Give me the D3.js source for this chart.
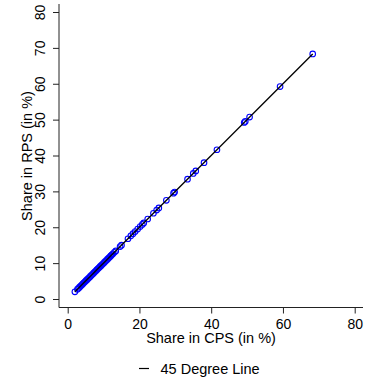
<!DOCTYPE html>
<html>
<head>
<meta charset="utf-8">
<script src="https://cdn.jsdelivr.net/npm/d3@7"></script>
<style>
  body { margin: 0; background: #fff; }
  text { font-family: "Liberation Sans", Arial, Helvetica, sans-serif; }
</style>
</head>
<body>
<svg id="chart" width="370" height="383"></svg>
<script>
// Share in CPS (x) and share in RPS (y), in percent
const cps = [2.0, 2.7, 3.0, 3.3, 3.6, 3.9, 4.2, 4.5, 4.8, 5.1, 5.4, 5.7, 6.0, 6.3, 6.6, 6.9, 7.2,
             7.5, 7.8, 8.1, 8.4, 8.7, 9.0, 9.3, 9.6, 9.9, 10.2, 10.5, 10.8, 11.1, 11.4, 11.7, 12.0,
             12.3, 12.6, 13.0, 13.4,
             14.6, 15.0, 16.8, 17.6, 18.2, 18.8, 19.5, 20.2, 20.8, 21.2, 22.3, 23.9, 24.8, 25.4,
             27.5, 29.5, 29.8, 33.4, 35.0, 35.7, 38.0, 41.6, 49.2, 49.5, 50.7, 59.2, 68.3];
const rps = [2.0, 2.7, 3.0, 3.3, 3.6, 3.9, 4.2, 4.5, 4.8, 5.1, 5.4, 5.7, 6.0, 6.3, 6.6, 6.9, 7.2,
             7.5, 7.8, 8.1, 8.4, 8.7, 9.0, 9.3, 9.6, 9.9, 10.2, 10.5, 10.8, 11.1, 11.4, 11.7, 12.0,
             12.3, 12.6, 13.0, 13.4,
             14.6, 15.0, 16.8, 17.6, 18.2, 18.8, 19.5, 20.2, 20.8, 21.2, 22.3, 23.9, 24.8, 25.4,
             27.5, 29.5, 29.8, 33.4, 35.0, 35.7, 38.0, 41.6, 49.2, 49.5, 50.7, 59.2, 68.3];
const xTicks = [0, 20, 40, 60, 80];
const yTicks = [0, 10, 20, 30, 40, 50, 60, 70, 80];
const xLabel = "Share in CPS (in %)";
const yLabel = "Share in RPS (in %)";
const legendLabel = "45 Degree Line";

const svg = d3.select("#chart");
const x = d3.scaleLinear().domain([0, 80]).range([67.7, 354.7]);
const y = d3.scaleLinear().domain([0, 80]).range([299, 12]);
const axisColor = "#222";
const font = "Liberation Sans, Arial, sans-serif";

// x axis
const gx = svg.append("g").attr("transform", "translate(0,307.5)");
gx.call(d3.axisBottom(x).tickValues(xTicks).tickSize(6).tickPadding(4).tickSizeOuter(0));
gx.select(".domain").remove();
gx.append("line").attr("x1", 59).attr("x2", 363).attr("stroke", axisColor).attr("stroke-width", 1);
gx.selectAll(".tick line").attr("stroke", axisColor);
gx.selectAll(".tick text").attr("font-size", 14).attr("fill", "#000")
  .attr("font-family", font).attr("y", 21).attr("dy", null);

// y axis
const gy = svg.append("g").attr("transform", "translate(59,0)");
gy.call(d3.axisLeft(y).tickValues(yTicks).tickSize(6).tickSizeOuter(0));
gy.select(".domain").remove();
gy.append("line").attr("y1", 4).attr("y2", 307.5).attr("stroke", axisColor).attr("stroke-width", 1);
gy.selectAll(".tick line").attr("stroke", axisColor);
gy.selectAll(".tick text")
  .attr("font-size", 14).attr("fill", "#000")
  .attr("font-family", font)
  .attr("x", null).attr("dy", null)
  .attr("text-anchor", "middle")
  .attr("transform", "translate(-14,0) rotate(-90)");

// axis titles
svg.append("text").attr("x", 211).attr("y", 343).attr("text-anchor", "middle")
  .attr("font-size", 14.5).text(xLabel);
svg.append("text").attr("text-anchor", "middle").attr("font-size", 14.5)
  .attr("transform", "translate(32,156) rotate(-90)").text(yLabel);

// data
const data = cps.map((v, i) => ({x: v, y: rps[i]}));
const lo = d3.min(cps), hi = d3.max(cps);

svg.append("g").selectAll("circle").data(data).join("circle")
  .attr("cx", d => x(d.x)).attr("cy", d => y(d.y)).attr("r", 2.8)
  .attr("fill", "none").attr("stroke", "#0000ff").attr("stroke-width", 1.1);

svg.append("line")
  .attr("x1", x(lo)).attr("y1", y(lo)).attr("x2", x(hi)).attr("y2", y(hi))
  .attr("stroke", "#000").attr("stroke-width", 1.3);

// legend
svg.append("line").attr("x1", 139).attr("x2", 149).attr("y1", 368.5).attr("y2", 368.5)
  .attr("stroke", "#000").attr("stroke-width", 1.2);
svg.append("text").attr("x", 160.5).attr("y", 374).attr("font-size", 14.5).text(legendLabel);
</script>
</body>
</html>
